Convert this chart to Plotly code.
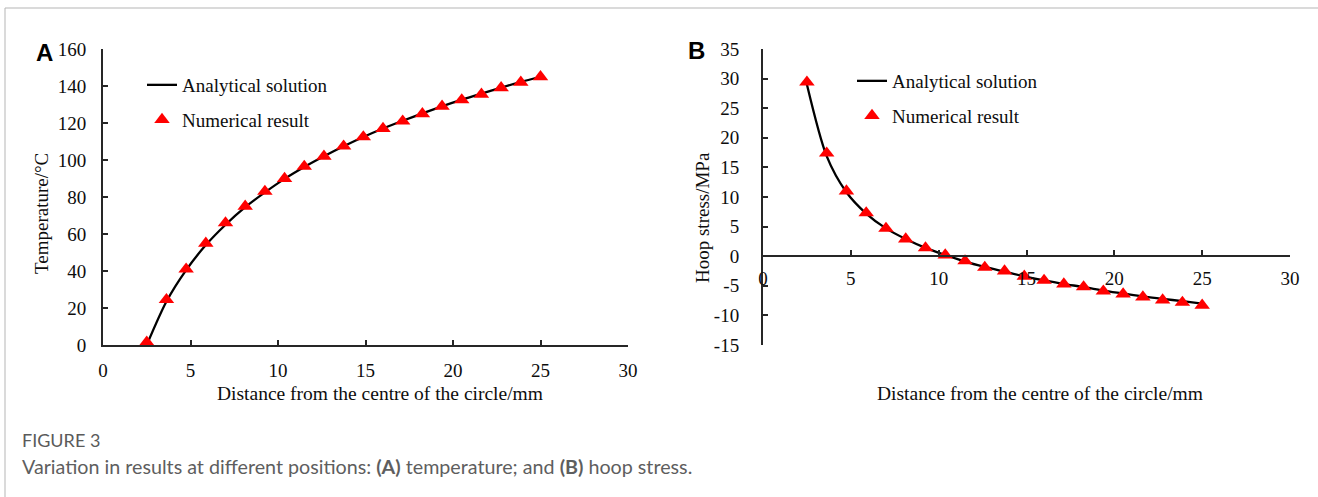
import plotly.graph_objects as go

W, H = 1318, 497

# ---- data ----
distance_mm = [2.5, 3.625, 4.75, 5.875, 7.0, 8.125, 9.25, 10.375, 11.5, 12.625, 13.75,
               14.875, 16.0, 17.125, 18.25, 19.375, 20.5, 21.625, 22.75, 23.875, 25.0]

temp_analytical = [0, 23.5, 40.5, 54, 65, 74.5, 82.5, 89.8, 96.2, 102, 107.4,
                   112.4, 117, 121.2, 125.2, 129, 132.6, 135.9, 139.1, 142.2, 145]
temp_numerical = [1.5, 24.5, 41, 55, 66, 75, 83, 90, 96.5, 102, 107.5,
                  112.5, 117, 121, 125, 129, 132.5, 135.5, 139, 142, 145]

stress_analytical = [29.0, 16.9, 10.8, 7.2, 4.7, 2.9, 1.4, 0.2, -0.9, -1.8, -2.6,
                     -3.4, -4.1, -4.7, -5.2, -5.8, -6.3, -6.8, -7.2, -7.6, -8.0]
stress_numerical = [29.4, 17.4, 11.0, 7.3, 4.7, 2.9, 1.4, 0.2, -0.8, -1.9, -2.5,
                    -3.4, -4.1, -4.7, -5.2, -5.9, -6.4, -6.9, -7.4, -7.8, -8.3]

x_ticks = [0, 5, 10, 15, 20, 25, 30]
temp_ticks = [0, 20, 40, 60, 80, 100, 120, 140, 160]
stress_ticks = [-15, -10, -5, 0, 5, 10, 15, 20, 25, 30, 35]
stress_tick_text = ["-15", "-10", "-5", "0", "5", "10", "15", "20", "25", "30", "35"]

x_title = "Distance from the centre of the circle/mm"
yA_title = "Temperature/\u00b0C"
yB_title = "Hoop stress/MPa"
name_line = "Analytical solution"
name_pts = "Numerical result"
caption_head = "FIGURE 3"
caption_text = ("Variation in results at different positions: <b>(A)</b> temperature; "
                "and <b>(B)</b> hoop stress.")

SERIF = "Liberation Serif"
FS = 19
TXT = "#0d0d0d"
AX = "#262626"
RED = "#ff0000"

# ---- layout positions (pixels -> paper) ----
def px(x):
    return x / W

def py(y):
    return 1 - y / H

domA_x = [px(103), px(628)]
domB_x = [px(763), px(1290)]
dom_y = [py(345), py(49)]
rangeB = [-15, 35]
zero_pos = dom_y[0] + (0 - rangeB[0]) / (rangeB[1] - rangeB[0]) * (dom_y[1] - dom_y[0])

fig = go.Figure()

fig.add_trace(go.Scatter(x=distance_mm, y=temp_analytical, mode="lines", name=name_line,
                         line=dict(color="black", width=2.3, shape="spline", smoothing=0.8),
                         xaxis="x", yaxis="y", legend="legend", legendgroup="a1"))
fig.add_trace(go.Scatter(x=distance_mm, y=temp_numerical, mode="markers", name=name_pts,
                         marker=dict(symbol="triangle-up", color=RED, size=13.5, line=dict(width=0)),
                         xaxis="x", yaxis="y", legend="legend", legendgroup="a2"))
fig.add_trace(go.Scatter(x=distance_mm, y=stress_analytical, mode="lines", name=name_line,
                         line=dict(color="black", width=2.3, shape="spline", smoothing=0.8),
                         xaxis="x2", yaxis="y2", legend="legend2", legendgroup="b1"))
fig.add_trace(go.Scatter(x=distance_mm, y=stress_numerical, mode="markers", name=name_pts,
                         marker=dict(symbol="triangle-up", color=RED, size=13.5, line=dict(width=0)),
                         xaxis="x2", yaxis="y2", legend="legend2", legendgroup="b2"))

tickfont = dict(family=SERIF, size=FS, color=TXT)
axis_common = dict(showline=True, linecolor=AX, linewidth=2, ticks="inside", ticklen=5,
                   tickwidth=1.5, tickcolor=AX, showgrid=False, zeroline=False,
                   tickfont=tickfont, fixedrange=True, automargin=False)

legend_common = dict(font=dict(family=SERIF, size=FS, color=TXT), bgcolor="rgba(0,0,0,0)",
                     borderwidth=0, tracegroupgap=7, traceorder="grouped",
                     xanchor="left", yanchor="top", itemwidth=30)

fig.update_layout(
    width=W, height=H, margin=dict(l=0, r=0, t=0, b=0, pad=0, autoexpand=False),
    paper_bgcolor="white", plot_bgcolor="white",
    xaxis=dict(domain=domA_x, anchor="y", range=[0, 30], tickvals=x_ticks,
               ticklabelstandoff=7, **axis_common),
    yaxis=dict(domain=dom_y, anchor="x", range=[0, 160], tickvals=temp_ticks,
               ticklabelstandoff=11, **axis_common),
    xaxis2=dict(domain=domB_x, anchor="free", position=zero_pos, range=[0, 30], tickvals=x_ticks,
                ticklabelstandoff=5, **axis_common),
    yaxis2=dict(domain=dom_y, anchor="x2", range=rangeB, tickvals=stress_ticks,
                ticktext=stress_tick_text, ticklabelstandoff=18, **axis_common),
    legend=dict(x=px(142), y=py(66), **legend_common),
    legend2=dict(x=px(852), y=py(62), **legend_common),
    showlegend=True,
)

annotations = [
    dict(text=x_title, x=px(380), y=py(393), xref="paper", yref="paper", showarrow=False,
         font=dict(family=SERIF, size=FS + 0.5, color=TXT), xanchor="center", yanchor="middle"),
    dict(text=x_title, x=px(1040), y=py(393), xref="paper", yref="paper", showarrow=False,
         font=dict(family=SERIF, size=FS + 0.5, color=TXT), xanchor="center", yanchor="middle"),
    dict(text=yA_title, x=px(42), y=py(214), xref="paper", yref="paper", showarrow=False,
         textangle=-90, font=dict(family=SERIF, size=FS, color=TXT),
         xanchor="center", yanchor="middle"),
    dict(text=yB_title, x=px(702), y=py(218), xref="paper", yref="paper", showarrow=False,
         textangle=-90, font=dict(family=SERIF, size=FS, color=TXT),
         xanchor="center", yanchor="middle"),
    dict(text="<b>A</b>", x=px(45), y=py(52), xref="paper", yref="paper", showarrow=False,
         font=dict(family="Liberation Sans", size=24, color="black"),
         xanchor="center", yanchor="middle"),
    dict(text="<b>B</b>", x=px(696), y=py(50), xref="paper", yref="paper", showarrow=False,
         font=dict(family="Liberation Sans", size=24, color="black"),
         xanchor="center", yanchor="middle"),
    dict(text=caption_head, x=px(20), y=py(440), xref="paper", yref="paper", showarrow=False,
         font=dict(family="Lato", size=18, color="#5a5a5a"), xanchor="left", yanchor="middle"),
    dict(text=caption_text, x=px(20), y=py(466), xref="paper", yref="paper", showarrow=False,
         font=dict(family="Lato", size=19.7, color="#5e5e5e"), xanchor="left", yanchor="middle"),
]
fig.update_layout(annotations=annotations)

fig.update_layout(shapes=[
    dict(type="line", xref="paper", yref="paper", x0=px(5), x1=1, y0=py(8), y1=py(8),
         line=dict(color="#b5b5b5", width=1)),
    dict(type="line", xref="paper", yref="paper", x0=px(5), x1=px(5), y0=py(8), y1=0,
         line=dict(color="#b5b5b5", width=1)),
])

fig.write_html("out.html")
